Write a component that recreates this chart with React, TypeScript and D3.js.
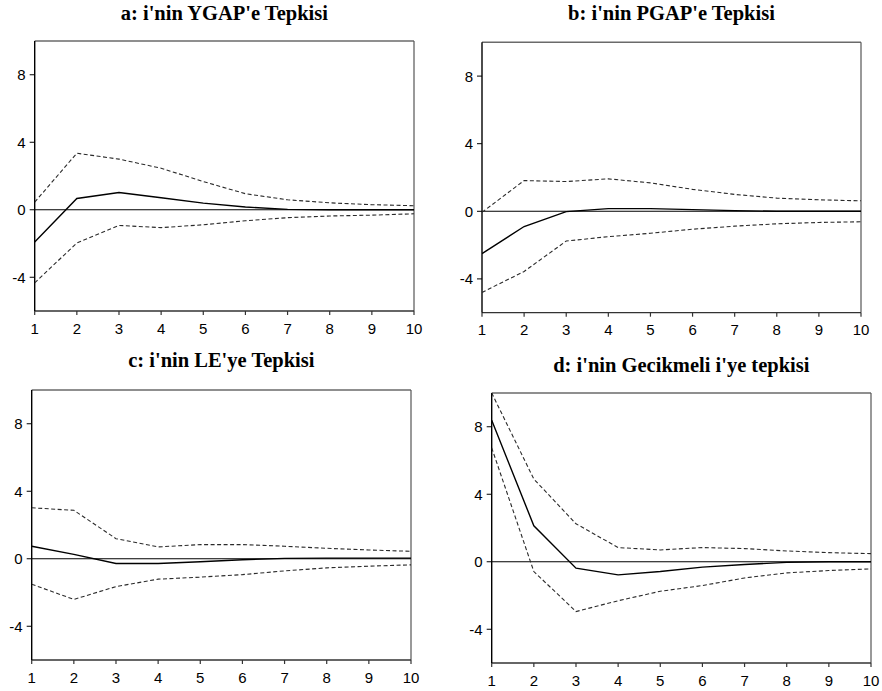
import React from "react";
import * as d3 from "d3";

const periods = [1, 2, 3, 4, 5, 6, 7, 8, 9, 10];
const yTickValues = [-4, 0, 4, 8];
const yDomain: [number, number] = [-6, 10];

const titles = [
  "a: i'nin YGAP'e Tepkisi",
  "b: i'nin PGAP'e Tepkisi",
  "c: i'nin LE'ye Tepkisi",
  "d: i'nin Gecikmeli i'ye tepkisi",
];

// Impulse responses (solid) and ±2 S.E. bands (dashed)
const respA = [-1.91, 0.67, 1.02, 0.71, 0.39, 0.16, 0.02, 0.0, 0.0, 0.0];
const upA = [0.45, 3.35, 3.0, 2.46, 1.67, 0.95, 0.59, 0.41, 0.3, 0.24];
const loA = [-4.33, -1.97, -0.93, -1.06, -0.89, -0.65, -0.47, -0.37, -0.32, -0.24];

const respB = [-2.5, -0.9, -0.02, 0.16, 0.16, 0.1, 0.04, 0.0, 0.0, 0.0];
const upB = [-0.06, 1.82, 1.76, 1.92, 1.68, 1.3, 1.0, 0.78, 0.68, 0.62];
const loB = [-4.8, -3.56, -1.76, -1.5, -1.3, -1.06, -0.88, -0.74, -0.66, -0.62];

const respC = [0.74, 0.26, -0.28, -0.28, -0.18, -0.06, 0.02, 0.04, 0.04, 0.04];
const upC = [3.02, 2.87, 1.19, 0.7, 0.84, 0.84, 0.74, 0.62, 0.52, 0.44];
const loC = [-1.51, -2.41, -1.65, -1.21, -1.09, -0.94, -0.72, -0.54, -0.44, -0.36];

const respD = [8.38, 2.13, -0.38, -0.78, -0.58, -0.32, -0.16, -0.04, 0.0, 0.0];
const upD = [10.0, 4.9, 2.25, 0.84, 0.7, 0.84, 0.78, 0.64, 0.54, 0.48];
const loD = [6.75, -0.58, -2.95, -2.31, -1.75, -1.41, -0.96, -0.66, -0.52, -0.42];

const series = [
  { resp: respA, up: upA, lo: loA },
  { resp: respB, up: upB, lo: loB },
  { resp: respC, up: upC, lo: loC },
  { resp: respD, up: upD, lo: loD },
];

// layout of each panel's plot area
const frames = [
  { left: 34.7, right: 414, top: 41, bottom: 311, titleY: 19.5 },
  { left: 482, right: 861, top: 42.3, bottom: 312.7, titleY: 20 },
  { left: 31.7, right: 411, top: 390, bottom: 660, titleY: 367 },
  { left: 491.7, right: 871, top: 393, bottom: 663, titleY: 371.5 },
];

function Panel({ idx }: { idx: number }) {
  const f = frames[idx];
  const s = series[idx];
  const x = d3.scaleLinear().domain([1, 10]).range([f.left, f.right]);
  const y = d3.scaleLinear().domain(yDomain).range([f.bottom, f.top]);
  const line = d3
    .line<number>()
    .x((_, i) => x(periods[i]))
    .y((d) => y(d));
  const clipId = `clip-${idx}`;
  return (
    <g>
      <defs>
        <clipPath id={clipId}>
          <rect x={f.left} y={f.top - 1} width={f.right - f.left} height={f.bottom - f.top + 1} />
        </clipPath>
      </defs>
      <text
        x={(f.left + f.right) / 2}
        y={f.titleY}
        textAnchor="middle"
        fontFamily="'Liberation Serif', 'Times New Roman', serif"
        fontWeight="bold"
        fontSize={20.5}
        fill="#000"
      >
        {titles[idx]}
      </text>
      {/* frame */}
      <line x1={f.left} x2={f.right} y1={f.top} y2={f.top} stroke="#6a6a6a" strokeWidth={1.4} />
      <line x1={f.right} x2={f.right} y1={f.top} y2={f.bottom} stroke="#555" strokeWidth={1.2} />
      <line x1={f.left} x2={f.right} y1={f.bottom} y2={f.bottom} stroke="#333" strokeWidth={1.3} />
      <line x1={f.left} x2={f.left} y1={f.top} y2={f.bottom} stroke="#000" strokeWidth={1.4} />
      {/* y ticks */}
      {yTickValues.map((v) => (
        <g key={`y${v}`}>
          <line x1={f.left - 5} x2={f.left} y1={y(v)} y2={y(v)} stroke="#000" strokeWidth={1} />
          <text
            x={f.left - 9}
            y={y(v)}
            dy="0.36em"
            textAnchor="end"
            fontFamily="'Liberation Sans', Arial, sans-serif"
            fontSize={15}
            fill="#000"
          >
            {v}
          </text>
        </g>
      ))}
      {/* x ticks */}
      {periods.map((p) => (
        <g key={`x${p}`}>
          <line x1={x(p)} x2={x(p)} y1={f.bottom} y2={f.bottom + 4} stroke="#333" strokeWidth={1.2} />
          <text
            x={x(p)}
            y={f.bottom + 22.5}
            textAnchor="middle"
            fontFamily="'Liberation Sans', Arial, sans-serif"
            fontSize={15}
            fill="#000"
          >
            {p}
          </text>
        </g>
      ))}
      {/* zero line */}
      <line x1={f.left} x2={f.right} y1={y(0)} y2={y(0)} stroke="#000" strokeWidth={1.1} />
      <g clipPath={`url(#${clipId})`}>
        <path d={line(s.up) || ""} fill="none" stroke="#2a2a2a" strokeWidth={1.1} strokeDasharray="4,2.5" />
        <path d={line(s.lo) || ""} fill="none" stroke="#2a2a2a" strokeWidth={1.1} strokeDasharray="4,2.5" />
        <path d={line(s.resp) || ""} fill="none" stroke="#000" strokeWidth={1.4} />
      </g>
    </g>
  );
}

export default function App() {
  return (
    <svg
      width={882}
      height={691}
      viewBox="0 0 882 691"
      style={{ position: "absolute", left: 0, top: 0, background: "#fff" }}
    >
      <rect x={0} y={0} width={882} height={691} fill="#fff" />
      {[0, 1, 2, 3].map((i) => (
        <Panel key={i} idx={i} />
      ))}
    </svg>
  );
}
